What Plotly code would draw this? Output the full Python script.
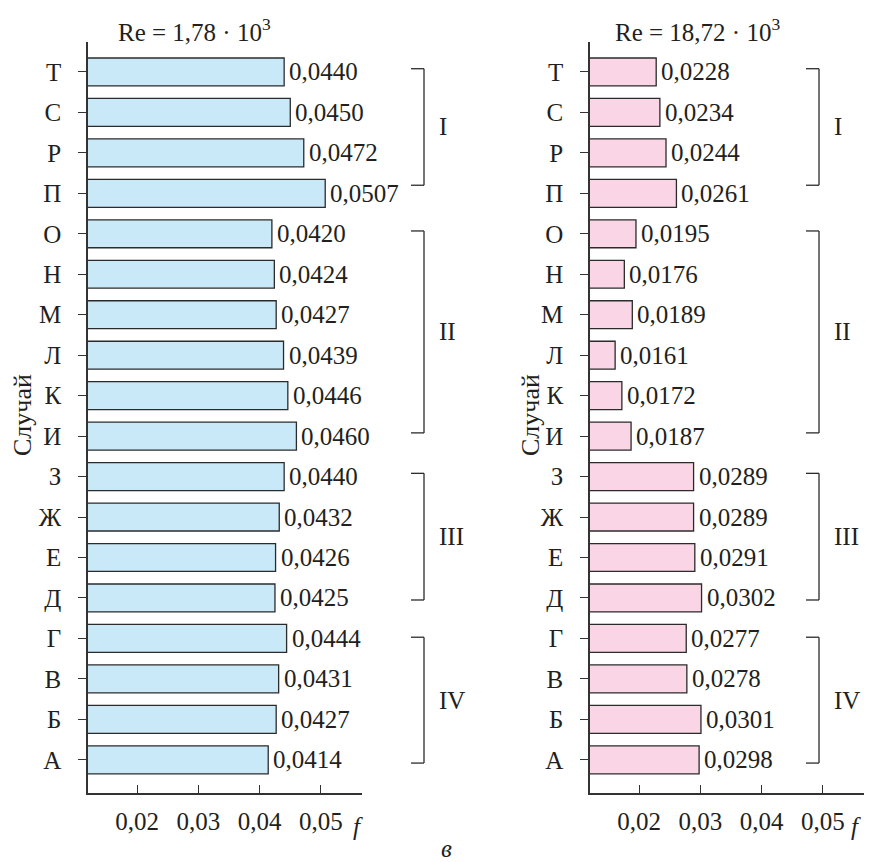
import plotly.graph_objects as go

# Cases, listed bottom to top
cases = ["А", "Б", "В", "Г", "Д", "Е", "Ж", "З", "И", "К",
         "Л", "М", "Н", "О", "П", "Р", "С", "Т"]

# Friction factor f for each case
f_low = [0.0414, 0.0427, 0.0431, 0.0444, 0.0425, 0.0426, 0.0432, 0.0440, 0.0460, 0.0446,
         0.0439, 0.0427, 0.0424, 0.0420, 0.0507, 0.0472, 0.0450, 0.0440]
f_high = [0.0298, 0.0301, 0.0278, 0.0277, 0.0302, 0.0291, 0.0289, 0.0289, 0.0187, 0.0172,
          0.0161, 0.0189, 0.0176, 0.0195, 0.0261, 0.0244, 0.0234, 0.0228]

titles = ["Re = 1,78 · 10<sup>3</sup>", "Re = 18,72 · 10<sup>3</sup>"]

# Case groups: (label, first case, last case, top pad, bottom pad) from top to bottom
groups = [("I", "Т", "П", 0.08, 0.2), ("II", "О", "И", 0.07, 0.08),
          ("III", "З", "Д", 0.08, -0.05), ("IV", "Г", "А", 0.03, -0.08)]

x_ticks = [0.02, 0.03, 0.04, 0.05]
x_ticktext = ["0,02", "0,03", "0,04", "0,05"]

FONT = "Liberation Serif"
FS = 25
INK = "#231f20"
W, H = 869, 862

fig = go.Figure()

panels = [
    dict(vals=f_low, fill="#c9e9f8", xa="x", ya="y", dom=[88 / W, 362 / W], bx=424,
         title=titles[0], tx=194, fx=358, yx=22),
    dict(vals=f_high, fill="#f9d5e5", xa="x2", ya="y2", dom=[590 / W, 864 / W], bx=819,
         title=titles[1], tx=697, fx=856, yx=530),
]

xr = [0.012, 0.0567]
yr = [-0.82, 17.74]
ydom = [(H - 793) / H, (H - 42) / H]

annotations = []
shapes = []

for p in panels:
    fig.add_trace(go.Bar(
        y=cases, x=p["vals"], orientation="h", width=0.69,
        marker=dict(color=p["fill"], line=dict(color="#2b2b2b", width=1.3)),
        xaxis=p["xa"], yaxis=p["ya"], showlegend=False, hoverinfo="x+y",
    ))
    # value labels to the right of each bar
    for c, v in zip(cases, p["vals"]):
        annotations.append(dict(
            x=v, y=c, xref=p["xa"], yref=p["ya"], text=f"{v:.4f}".replace(".", ","),
            showarrow=False, xanchor="left", xshift=3,
            font=dict(family=FONT, size=FS, color=INK),
        ))
    # panel title
    annotations.append(dict(
        x=p["tx"] / W, y=(H - 30) / H, xref="paper", yref="paper", text=p["title"],
        showarrow=False, xanchor="center", yanchor="middle",
        font=dict(family=FONT, size=FS, color=INK),
    ))
    # axis variable label
    annotations.append(dict(
        x=p["fx"] / W, y=(H - 826) / H, xref="paper", yref="paper",
        text="<i>f</i>", showarrow=False, xanchor="center", yanchor="middle",
        font=dict(family=FONT, size=FS, color=INK),
    ))
    # y-axis title
    annotations.append(dict(
        x=p["yx"] / W, y=(H - 415) / H, xref="paper", yref="paper",
        text="Случай", textangle=-90, showarrow=False, xanchor="center", yanchor="middle",
        font=dict(family=FONT, size=FS + 1, color=INK),
    ))
    # group brackets
    bx = p["bx"]
    for label, top, bot, pt, pb in groups:
        yt = cases.index(top) + pt
        yb = cases.index(bot) + pb
        for seg in [((bx - 13) / W, yt, bx / W, yt), (bx / W, yt, bx / W, yb),
                    ((bx - 13) / W, yb, bx / W, yb)]:
            shapes.append(dict(type="line", xref="paper", yref=p["ya"],
                               x0=seg[0], y0=seg[1], x1=seg[2], y1=seg[3],
                               line=dict(color="#2b2b2b", width=1.3)))
        annotations.append(dict(
            x=(bx + 13) / W, y=(yt + yb) / 2, xref="paper", yref=p["ya"],
            text=label, showarrow=False, xanchor="left", yanchor="middle",
            font=dict(family=FONT, size=FS, color=INK),
        ))

# caption letter
annotations.append(dict(
    x=446 / W, y=(H - 848) / H, xref="paper", yref="paper", text="<i>в</i>",
    showarrow=False, xanchor="center", yanchor="middle",
    font=dict(family=FONT, size=FS, color=INK),
))

axis_common_x = dict(
    range=xr, tickvals=x_ticks, ticktext=x_ticktext, ticks="inside", ticklen=8,
    tickwidth=1.3, tickcolor="#333", showline=True, linecolor="#333", linewidth=1.5,
    showgrid=False, zeroline=False, tickfont=dict(family=FONT, size=FS, color=INK),
    ticklabelstandoff=5, fixedrange=True,
)
axis_common_y = dict(
    type="category", categoryorder="array", categoryarray=cases, range=yr,
    ticks="outside", ticklen=8, tickwidth=1.3, tickcolor="#333", showline=True,
    linecolor="#333", linewidth=1.5, showgrid=False, zeroline=False,
    tickfont=dict(family=FONT, size=FS, color=INK), ticklabelstandoff=12, fixedrange=True,
)

fig.update_layout(
    width=W, height=H, margin=dict(l=0, r=0, t=0, b=0),
    paper_bgcolor="white", plot_bgcolor="white",
    xaxis=dict(domain=panels[0]["dom"], anchor="y", **axis_common_x),
    yaxis=dict(domain=ydom, anchor="x", **axis_common_y),
    xaxis2=dict(domain=panels[1]["dom"], anchor="y2", **axis_common_x),
    yaxis2=dict(domain=ydom, anchor="x2", **axis_common_y),
    annotations=annotations, shapes=shapes,
)

fig.write_html("out.html")
